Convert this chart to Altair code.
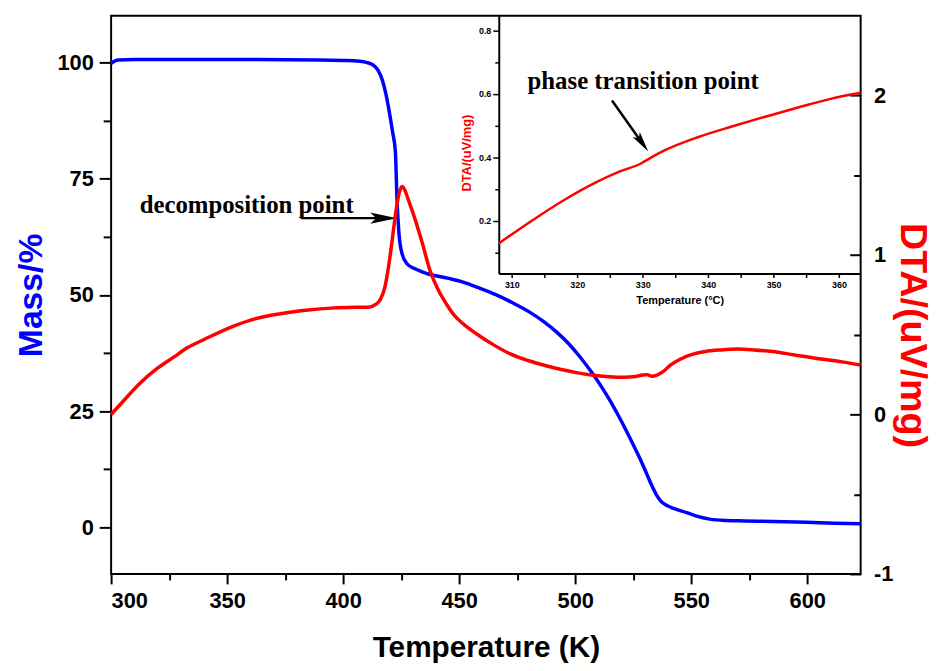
import altair as alt
import pandas as pd

# ---------------- data ----------------
# TG curve: mass (%) vs temperature (K)
mass_T = [300, 303, 310, 330, 360, 390, 400, 406, 410, 413, 415, 417, 418.5, 420,
          421.3, 422.5, 423.2, 424, 425.4, 427.5, 431, 436, 445, 452, 458, 466,
          473, 480, 486, 492, 497, 502, 507, 511, 514.5, 518, 522, 525, 529, 531,
          533, 535, 537, 540, 543, 548, 552, 558, 565, 573, 585, 600, 612, 623]
mass_val = [99.8, 100.5, 100.6, 100.6, 100.6, 100.5, 100.4, 100.3, 100.0, 99.4,
            98.3, 96.0, 93.0, 89.0, 85.0, 80.8, 70.5, 63.5, 58.8, 56.7, 55.6, 54.6,
            53.6, 52.7, 51.6, 50.0, 48.3, 46.4, 44.4, 42.0, 39.6, 36.7, 33.4, 30.5,
            27.7, 24.6, 20.8, 17.8, 13.6, 11.3, 9.0, 7.0, 5.6, 4.6, 4.0, 3.2, 2.5,
            1.8, 1.5, 1.4, 1.3, 1.1, 0.9, 0.8]

# DTA curve (uV/mg) vs temperature (K)
dta_T = [300, 305, 312, 320, 327, 333, 340, 352, 362, 373, 385, 395, 405, 411, 414,
         416, 418, 419.7, 421, 422.5, 424, 425.4, 426.5, 428, 430.4, 434, 437.5, 441,
         444.6, 448, 452, 458, 465, 472, 480, 487, 494, 500, 507, 514.5, 521, 526, 529,
         531, 533, 535, 538, 541, 545, 550, 556, 563, 570, 577, 585, 594, 605, 615, 623]
dta_val = [0.0, 0.08, 0.19, 0.29, 0.36, 0.42, 0.47, 0.55, 0.60, 0.632, 0.655, 0.667,
           0.672, 0.673, 0.69, 0.72, 0.80, 0.94, 1.08, 1.25, 1.38, 1.43, 1.41, 1.35,
           1.25, 1.08, 0.90, 0.78, 0.69, 0.62, 0.565, 0.50, 0.435, 0.38, 0.337, 0.307,
           0.282, 0.264, 0.248, 0.237, 0.233, 0.238, 0.248, 0.25, 0.24, 0.245, 0.27,
           0.31, 0.345, 0.375, 0.395, 0.405, 0.41, 0.405, 0.395, 0.375, 0.35, 0.33, 0.31]

# Inset: DTA vs temperature (°C)
inset_T = [308, 313, 318, 323, 326.5, 329.8, 331.2, 333.4, 338.4, 343.5, 348.6,
           353.6, 358.7, 363.3]
inset_val = [0.128, 0.199, 0.265, 0.322, 0.355, 0.381, 0.398, 0.422, 0.463, 0.496,
             0.527, 0.556, 0.584, 0.603]

# tick values
x_ticks = [300, 325, 350, 375, 400, 425, 450, 475, 500, 525, 550, 575, 600]
mass_ticks = [0, 12.5, 25, 37.5, 50, 62.5, 75, 87.5, 100]
dta_ticks = [-1, -0.5, 0, 0.5, 1, 1.5, 2]
inset_x_ticks = [310, 315, 320, 325, 330, 335, 340, 345, 350, 355, 360]
inset_y_ticks = [0.1, 0.2, 0.3, 0.4, 0.5, 0.6, 0.7, 0.8]

# annotations
decomp_label = ["decomposition point"]
decomp_text_T = [312.3]
decomp_text_M = [67.6]
decomp_arrow_T0 = [381.7]
decomp_arrow_T1 = [419.0]
decomp_arrow_tip_T = [423.2]
decomp_arrow_M = [66.5]

phase_label = ["phase transition point"]
phase_text_T = [312.4]
phase_text_v = [0.614]
phase_arrow_T0 = [325.3]
phase_arrow_v0 = [0.579]
phase_arrow_T1 = [329.96]
phase_arrow_v1 = [0.4434]
phase_arrow_tip_T = [330.84]
phase_arrow_tip_v = [0.418]

# ---------------- layout / style ----------------
W, H = 756, 563
INSET_X0 = 391   # inset left edge inside plot
INSET_Y1 = 260   # inset bottom edge inside plot
FONT = "Liberation Sans"
SERIF = "Liberation Serif"
BLUE = "#0000FF"
RED = "#FF0000"
ARROW = "M0,0L-0.42,2L0,1.55L0.42,2Z"

xs = alt.Scale(domain=[300, 623], nice=False, zero=False)
ms = alt.Scale(domain=[-10, 110], nice=False, zero=False)
ds = alt.Scale(domain=[-1, 2.5], nice=False, zero=False)
ixs = alt.Scale(domain=[308, 363.3], range=[INSET_X0, W], nice=False, zero=False)
iys = alt.Scale(domain=[0.033, 0.846], range=[INSET_Y1, 0], nice=False, zero=False)

x_axis = alt.Axis(
    values=x_ticks, orient="bottom",
    labelExpr="datum.value % 50 === 0 ? toString(datum.value) : ''",
    tickSize={"condition": {"test": "datum.value % 50 === 0", "value": 10}, "value": 6},
    tickWidth=2, tickColor="black", domain=False, grid=False,
    labelFont=FONT, labelFontSize=22, labelFontWeight="bold", labelColor="black",
    labelPadding=7, title="Temperature (K)", titleFont=FONT, titleFontSize=30,
    titleFontWeight="bold", titleColor="black", titlePadding=21)

mass_axis = alt.Axis(
    values=mass_ticks, orient="left",
    labelExpr="datum.value % 25 === 0 ? toString(datum.value) : ''",
    tickSize={"condition": {"test": "datum.value % 25 === 0", "value": 12}, "value": 8},
    tickWidth=2, tickColor="black", domain=False, grid=False,
    labelFont=FONT, labelFontSize=22, labelFontWeight="bold", labelColor="black",
    labelPadding=6, title="Mass/%", titleFont=FONT, titleFontSize=34,
    titleFontWeight="bold", titleColor=BLUE, titlePadding=9)

dta_axis = alt.Axis(
    values=dta_ticks, orient="right", offset=-11,
    labelExpr="datum.value % 1 === 0 ? toString(datum.value) : ''",
    tickSize=11,
    tickDash={"condition": {"test": "datum.value % 1 !== 0", "value": [0, 4, 7, 20]},
              "value": [11, 0]},
    tickWidth=2, tickColor="black", domain=False, grid=False,
    labelFont=FONT, labelFontSize=22, labelFontWeight="bold", labelColor="black",
    labelPadding=13, title="DTA/(uV/mg)", titleFont=FONT, titleFontSize=38,
    titleFontWeight="bold", titleColor=RED, titlePadding=0, titleY=322)

inset_x_axis = alt.Axis(
    values=inset_x_ticks, orient="bottom", offset=-(H - INSET_Y1),
    labelExpr="datum.value % 10 === 0 ? toString(datum.value) : ''",
    tickSize=4, tickWidth=1.5, tickColor="black",
    domain=True, domainColor="black", domainWidth=2, grid=False,
    labelFont=FONT, labelFontSize=9, labelFontWeight="bold", labelColor="black",
    labelPadding=3, title="Temperature (°C)", titleFont=FONT, titleFontSize=11,
    titleFontWeight="bold", titleColor="black", titlePadding=5)

inset_y_axis = alt.Axis(
    values=inset_y_ticks, orient="left", offset=-INSET_X0,
    labelExpr="round(datum.value * 10) % 2 === 0 ? format(datum.value, '.1f') : ''",
    tickSize={"condition": {"test": "round(datum.value * 10) % 2 === 0", "value": 6},
              "value": 4},
    tickWidth=1.5, tickColor="black",
    domain=True, domainColor="black", domainWidth=2, grid=False,
    labelFont=FONT, labelFontSize=9, labelFontWeight="bold", labelColor="black",
    labelPadding=2, title="DTA/(uV/mg)", titleFont=FONT, titleFontSize=13,
    titleFontWeight="bold", titleColor=RED, titleX=-33, titleY=138,
    titleBaseline="middle", titleAngle=270)

# ---------------- data frames ----------------
mass_df = pd.DataFrame({"T": mass_T, "v": mass_val})
dta_df = pd.DataFrame({"T": dta_T, "v": dta_val})
inset_df = pd.DataFrame({"T": inset_T, "v": inset_val})

decomp_text_df = pd.DataFrame({"T": decomp_text_T, "v": decomp_text_M, "label": decomp_label})
decomp_rule_df = pd.DataFrame({"T": decomp_arrow_T0, "T2": decomp_arrow_T1, "v": decomp_arrow_M})
decomp_head_df = pd.DataFrame({"T": decomp_arrow_tip_T, "v": decomp_arrow_M})

phase_text_df = pd.DataFrame({"T": phase_text_T, "v": phase_text_v, "label": phase_label})
phase_rule_df = pd.DataFrame({"T": phase_arrow_T0, "T2": phase_arrow_T1,
                              "v": phase_arrow_v0, "v2": phase_arrow_v1})
phase_head_df = pd.DataFrame({"T": phase_arrow_tip_T, "v": phase_arrow_tip_v})

# shared encodings (same axis objects so that the merged axes survive)
mx = alt.X("T:Q", scale=xs, axis=x_axis)
my = alt.Y("v:Q", scale=ms, axis=mass_axis)
ix = alt.X("T:Q", scale=ixs, axis=inset_x_axis)
iy = alt.Y("v:Q", scale=iys, axis=inset_y_axis)

# ---------------- main plot ----------------
mass_line = alt.Chart(mass_df).mark_line(
    color=BLUE, strokeWidth=3.5, interpolate="monotone").encode(x=mx, y=my)

decomp_text = alt.Chart(decomp_text_df).mark_text(
    align="left", baseline="alphabetic", font=SERIF, fontSize=25, fontWeight="bold",
    color="black").encode(x=mx, y=my, text="label:N")

decomp_rule = alt.Chart(decomp_rule_df).mark_rule(
    color="black", strokeWidth=2.5).encode(x=mx, x2="T2:Q", y=my)

decomp_head = alt.Chart(decomp_head_df).mark_point(
    shape=ARROW, filled=True, size=729, angle=90, color="black", opacity=1,
    strokeWidth=0).encode(x=mx, y=my)

mass_group = alt.layer(mass_line, decomp_text, decomp_rule, decomp_head)

dta_line = alt.Chart(dta_df).mark_line(
    color=RED, strokeWidth=3.5, interpolate="monotone").encode(
    x=mx, y=alt.Y("v:Q", scale=ds, axis=dta_axis))

main = alt.layer(mass_group, dta_line).resolve_scale(y="independent")

# ---------------- inset ----------------
inset_line = alt.Chart(inset_df).mark_line(
    color=RED, strokeWidth=2.5, interpolate="monotone").encode(x=ix, y=iy)

phase_text = alt.Chart(phase_text_df).mark_text(
    align="left", baseline="alphabetic", font=SERIF, fontSize=25, fontWeight="bold",
    color="black").encode(x=ix, y=iy, text="label:N")

phase_rule = alt.Chart(phase_rule_df).mark_rule(
    color="black", strokeWidth=2.5).encode(x=ix, x2="T2:Q", y=iy, y2="v2:Q")

phase_head = alt.Chart(phase_head_df).mark_point(
    shape=ARROW, filled=True, size=441, angle=144.7, color="black", opacity=1,
    strokeWidth=0).encode(x=ix, y=iy)

inset = alt.layer(inset_line, phase_text, phase_rule, phase_head)

chart = alt.layer(main, inset).resolve_scale(
    x="independent", y="independent"
).properties(
    width=W, height=H,
    background="white",
    autosize=alt.AutoSizeParams(type="none"),
    padding={"left": 104, "top": 5, "right": 75, "bottom": 95},
).configure_view(stroke="black", strokeWidth=2, fill="white")

chart.save("out.html", embed_options={"renderer": "svg", "actions": False})
